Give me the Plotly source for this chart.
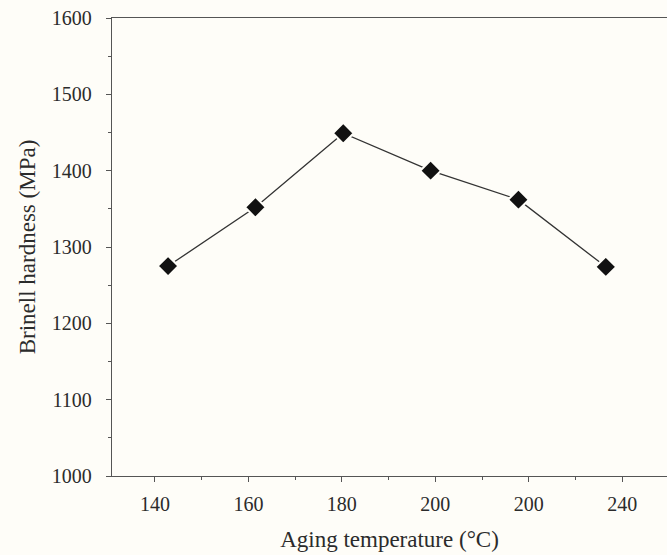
import plotly.graph_objects as go

# Data
temperature = [142.8, 161.5, 180.3, 199.0, 217.8, 236.5]
hardness = [1275, 1352, 1449, 1400, 1362, 1274]

x_tick_vals = [140, 160, 180, 200, 220, 240]
x_tick_text = ["140", "160", "180", "200", "200", "240"]
y_tick_vals = [1000, 1100, 1200, 1300, 1400, 1500, 1600]

font_family = "Liberation Serif, Times New Roman, serif"
ink = "#2b2b2b"
bg = "#fefdf8"

fig = go.Figure()
fig.add_trace(go.Scatter(
    x=temperature, y=hardness, mode="lines+markers",
    line=dict(color="#333333", width=1.3),
    marker=dict(symbol="diamond", size=16, color="#111111",
                line=dict(color=bg, width=2)),
    showlegend=False,
))

fig.update_layout(
    width=667, height=555,
    margin=dict(l=112, r=0, t=18, b=79),
    paper_bgcolor=bg, plot_bgcolor=bg,
    font=dict(family=font_family, size=20, color=ink),
    xaxis=dict(
        range=[130.8, 249.6], tickvals=x_tick_vals, ticktext=x_tick_text,
        ticks="outside", ticklen=5, tickwidth=1, tickcolor="#555555",
        showline=True, linecolor="#555555", linewidth=1.3, mirror=True,
        showgrid=False, zeroline=False,
        minor=dict(dtick=20, tick0=150, ticks="outside", ticklen=3, tickcolor="#555555"),
        ticklabelstandoff=5,
        title=dict(text="Aging temperature (°C)", font=dict(size=23), standoff=16),
    ),
    yaxis=dict(
        range=[1000, 1600], tickvals=y_tick_vals,
        ticks="outside", ticklen=5, tickwidth=1, tickcolor="#555555",
        showline=True, linecolor="#555555", linewidth=1.3,
        showgrid=False, zeroline=False,
        minor=dict(dtick=50, tick0=1050, ticks="outside", ticklen=3, tickcolor="#555555"),
        ticklabelstandoff=10,
        title=dict(text="Brinell hardness (MPa)", font=dict(size=23), standoff=9),
    ),
)

fig.write_html("out.html",
               config={"displayModeBar": False},
               post_script="document.body.style.margin='0';document.body.style.overflow='hidden';")
